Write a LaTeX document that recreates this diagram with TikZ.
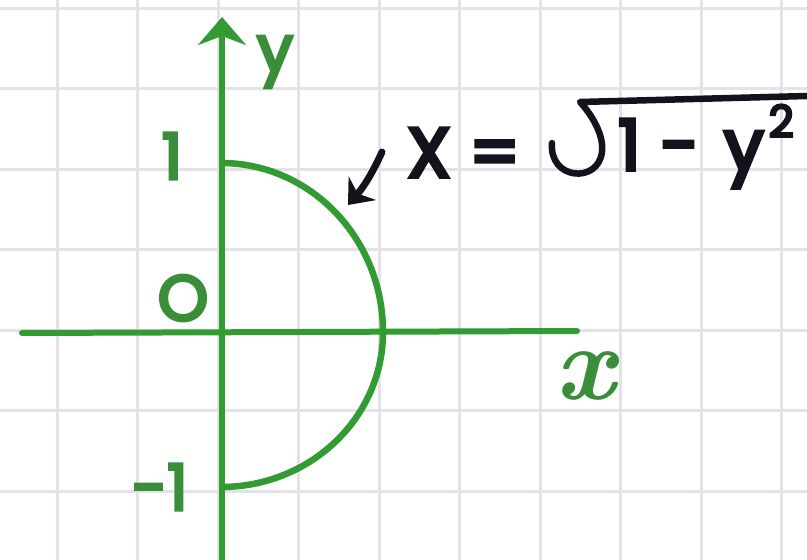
\documentclass[tikz,border=0pt]{standalone}
\usepackage{fontspec}
\setmainfont{Poppins}
\newfontfamily\lmr{Latin Modern Roman}
\usetikzlibrary{arrows.meta}
\definecolor{gline}{RGB}{50,155,50}
\definecolor{glabel}{RGB}{58,142,58}
\definecolor{gridc}{RGB}{226,226,232}
\definecolor{ink}{RGB}{20,18,28}
\begin{document}
\begin{tikzpicture}[x=1pt,y=-1pt,
  axis/.style={draw=gline,line width=6pt},
  curve/.style={draw=gline,line width=6.5pt},
  glab/.style={text=glabel,font=\fontsize{64}{64}\selectfont\addfontfeature{FakeBold=5},inner sep=0pt},
  blab/.style={text=ink,font=\fontsize{70}{70}\selectfont\addfontfeature{FakeBold=5.5},inner sep=0pt},
  gridline/.style={draw=gridc,line width=3pt}
]
\useasboundingbox (0,0) rectangle (807,560);
\fill[white] (0,0) rectangle (807,560);
\foreach \i in {0,...,9} \draw[gridline] ({57+80.5*\i},0) -- ({57+80.5*\i},560);
\foreach \j in {0,...,6} \draw[gridline] (0,{8+80.5*\j}) -- (807,{8+80.5*\j});
% axes
\coordinate (O) at (221,332);
\coordinate (xl) at (22,333);
\coordinate (xr) at (577,331);
\coordinate (yb) at (222,565);
\coordinate (yt) at (222,17);
\draw[axis,line cap=round] (xl) -- (xr);
\draw[axis,-{Stealth[length=28pt,width=48pt,inset=9pt]}] (yb) -- (yt);
% semicircle
\draw[curve] (221,163) arc[start angle=-90,end angle=0,x radius=162,y radius=169]
  arc[start angle=0,end angle=90,x radius=162,y radius=155];
% green labels
\node[glab] (ylab) at (275,62) {y};
\node[glab] (one) at (172,156) {1};
\node[glab] (zero) at (183,298) {O};
\node[glab,font=\fontsize{106}{106}\lmr\bfseries\itshape] (xlab) at (585,376) {x};
\node[glab] (mone) at (160,487) {-1};
% formula
\node[blab,anchor=base west] (eqL) at (407,177) {X =};
\node[blab,anchor=base west] (eqR) at (618,170) {1\hspace{20pt}-\hspace{25pt}y\hspace{5pt}\raisebox{33pt}{\fontsize{44}{44}\selectfont 2}};
\draw[ink,line width=6.5pt,line cap=round,line join=round]
  (552,143) .. controls (549,180) and (598,184) .. (602,152)
  .. controls (604,135) and (592,115) .. (580,102) -- (807,96);
% pointer
\coordinate (ps) at (382,152);
\coordinate (pe) at (348,205);
\draw[ink,line width=7pt,line cap=round,-{Stealth[length=22pt,width=36pt,inset=7pt]}] (ps) to[bend left=8] (pe);
\end{tikzpicture}
\end{document}
